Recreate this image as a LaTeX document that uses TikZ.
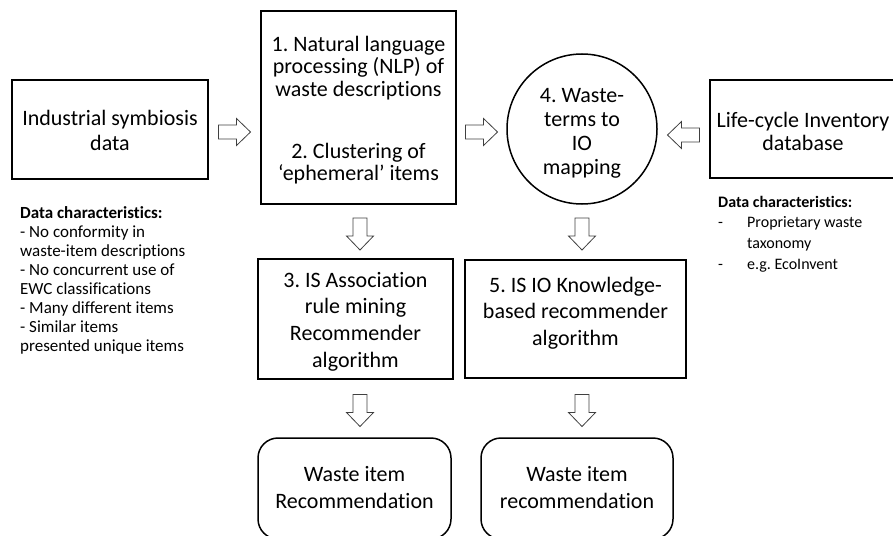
\documentclass[tikz,border=0pt]{standalone}
\usepackage{fontspec}
\setmainfont{Carlito}[Ligatures=NoCommon]
\frenchspacing
\begin{document}
\begin{tikzpicture}[x=1pt,y=-1pt,
  box/.style={draw, line width=1.5pt, inner sep=0pt},
  rbox/.style={box, rounded corners=20pt},
  circ/.style={draw, line width=1.5pt, circle, inner sep=0pt, minimum size=150pt},
  txt/.style={align=center, inner sep=0pt},
  note/.style={inner sep=0pt, anchor=north west, align=left},
  blockarrow/.pic={\draw[line width=0.8pt, draw=black!75, fill=white, line join=miter]
     (-16,-7) -- (2,-7) -- (2,-13.5) -- (16,0) -- (2,13.5) -- (2,7) -- (-16,7) -- cycle;}
]
\useasboundingbox (0,0) rectangle (893,535);
\clip (0,0) rectangle (893,535);

% boxes
\node[box, minimum width=196pt, minimum height=99pt] (ind) at (110,129.5) {};
\node[txt, font=\fontsize{22}{25}\selectfont] (indt) at (110,130) {Industrial symbiosis\\data};

\node[box, minimum width=195pt, minimum height=193pt] (b1) at (358.5,107.5) {};
\node[txt, font=\fontsize{22}{22.5}\selectfont] (b1t) at (358.5,110)
  {1. Natural language\\processing (NLP) of\\waste descriptions\\[39.5pt]2. Clustering of\\‘ephemeral’ items};

\node[circ] (c4) at (582,129) {};
\node[txt, font=\fontsize{22}{24.3}\selectfont] (c4t) at (582,133.3) {4. Waste-\\terms to\\IO\\mapping};

\node[box, minimum width=186pt, minimum height=98pt] (lci) at (803,129) {};
\node[txt, font=\fontsize{22}{23}\selectfont] (lcit) at (803,131) {Life-cycle Inventory\\database};

\node[box, minimum width=195pt, minimum height=120pt] (b3) at (355.5,319) {};
\node[txt, font=\fontsize{22}{26.7}\selectfont] (b3t) at (355.5,321.5) {3. IS Association\\rule mining\\Recommender\\algorithm};

\node[box, minimum width=221pt, minimum height=118pt] (b5) at (575.5,319) {};
\node[txt, font=\fontsize{22}{26.7}\selectfont] (b5t) at (575.5,313) {5. IS IO Knowledge-\\based recommender\\algorithm};

\node[rbox, minimum width=193pt, minimum height=101pt] (w1) at (354.5,488.5) {};
\node[txt, font=\fontsize{22}{26.7}\selectfont] (w1t) at (354.5,487.3) {Waste item\\Recommendation};

\node[rbox, minimum width=192pt, minimum height=101pt] (w2) at (577,488.5) {};
\node[txt, font=\fontsize{22}{26.7}\selectfont] (w2t) at (577,487.3) {Waste item\\recommendation};

% notes
\node[note, font=\fontsize{17}{19.1}\selectfont] (ln) at (20,204.6) {%
\begin{tabular}{@{}l@{}}
\textbf{Data characteristics:}\\
- No conformity in\\
waste-item descriptions\\
- No concurrent use of\\
EWC classifications\\
- Many different items\\
- Similar items\\
presented unique items
\end{tabular}};

\node[note, font=\fontsize{16}{20.7}\selectfont] (rn) at (718,192.5) {%
\begin{tabular}{@{}p{29pt}@{}l@{}}
\multicolumn{2}{@{}l@{}}{\textbf{Data characteristics:}}\\
- & Proprietary waste\\
  & taxonomy\\
- & e.g. EcoInvent
\end{tabular}};

% block arrows
\pic at (234.5,132) {blockarrow};
\pic at (481.5,132) {blockarrow};
\pic[rotate=180] at (683.5,135) {blockarrow};
\pic[rotate=-90] at (360,234) {blockarrow};
\pic[rotate=-90] at (582,234) {blockarrow};
\pic[rotate=-90] at (360,410.5) {blockarrow};
\pic[rotate=-90] at (582,410.5) {blockarrow};
\end{tikzpicture}
\end{document}
